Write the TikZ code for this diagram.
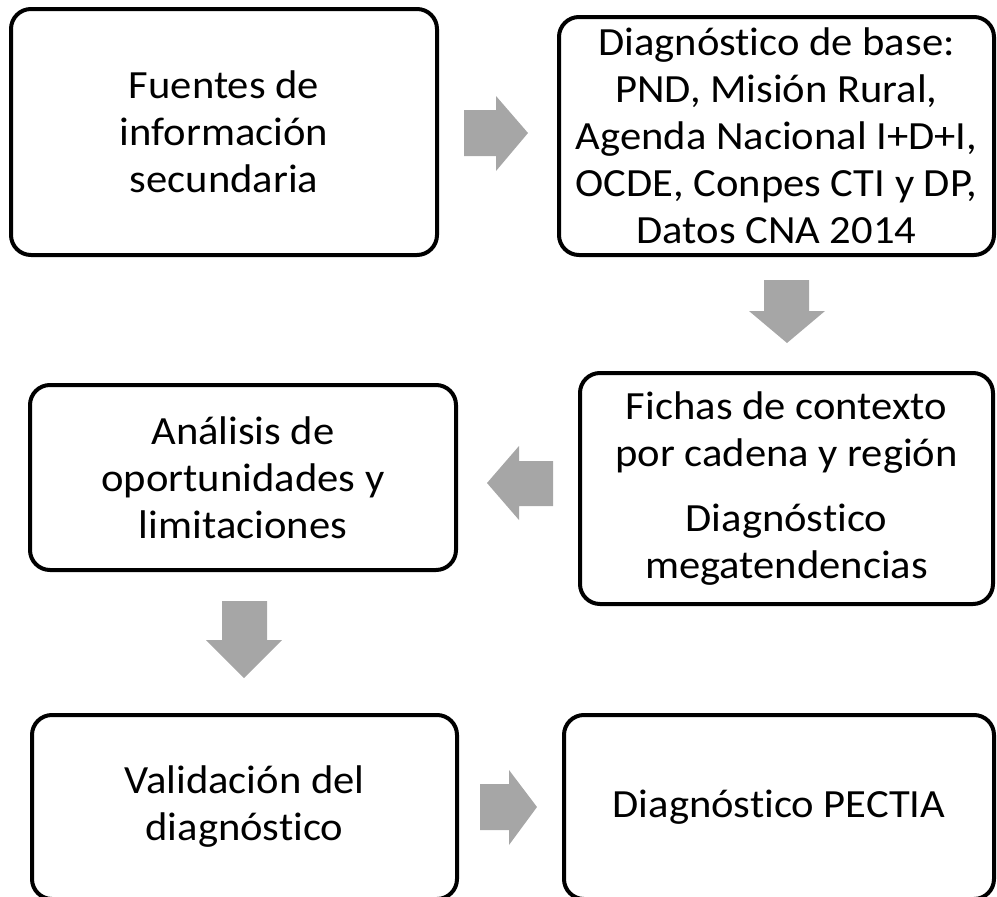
\documentclass[tikz,border=0pt]{standalone}
\usepackage{fontspec}
\setmainfont[FakeStretch=1.065, Ligatures=NoCommon]{Carlito}
\definecolor{arrowgray}{RGB}{166,166,166}
\begin{document}
\begin{tikzpicture}[x=1pt,y=-1pt,
  box/.style={draw=black, line width=4pt, rounded corners=20pt, fill=white,
    inner sep=0pt, align=center, font=\fontsize{40}{47}\selectfont},
  blockarrow/.style={fill=arrowgray, draw=none}]
\useasboundingbox (0,0) rectangle (997,897);
\node[box, minimum width=426pt, minimum height=246pt] (b1) at (224,132)
  {Fuentes de\\información\\secundaria};
\node[box, minimum width=435pt, minimum height=238pt] (b2) at (776.5,136)
  {Diagnóstico de base:\\PND, Misión Rural,\\Agenda Nacional I+D+I,\\OCDE, Conpes CTI y DP,\\Datos CNA 2014};
\node[box, minimum width=413pt, minimum height=231pt] (b3) at (786.5,488.5)
  {Fichas de contexto\\por cadena y región\\[18pt]Diagnóstico\\megatendencias};
\node[box, minimum width=426pt, minimum height=185pt] (b4) at (243,477.5)
  {Análisis de\\oportunidades y\\limitaciones};
\node[box, minimum width=425pt, minimum height=184pt] (b5) at (244.5,807)
  {Validación del\\diagnóstico};
\node[box, minimum width=430pt, minimum height=184pt] (b6) at (779,807)
  {Diagnóstico PECTIA};
% block arrows
\fill[blockarrow] (464,110) -- (496,110) -- (496,96) -- (528,133) -- (496,171) -- (496,156) -- (464,156) -- cycle;
\fill[blockarrow] (764,280) -- (809,280) -- (809,311) -- (825,311) -- (787,343) -- (749,311) -- (764,311) -- cycle;
\fill[blockarrow] (553,461) -- (519,461) -- (519,446) -- (487,483) -- (519,520) -- (519,506) -- (553,506) -- cycle;
\fill[blockarrow] (222,601) -- (267,601) -- (267,640) -- (282,640) -- (244,678) -- (206,640) -- (222,640) -- cycle;
\fill[blockarrow] (480,784) -- (509,784) -- (509,770) -- (537,807) -- (509,845) -- (509,830) -- (480,830) -- cycle;
\end{tikzpicture}
\end{document}
